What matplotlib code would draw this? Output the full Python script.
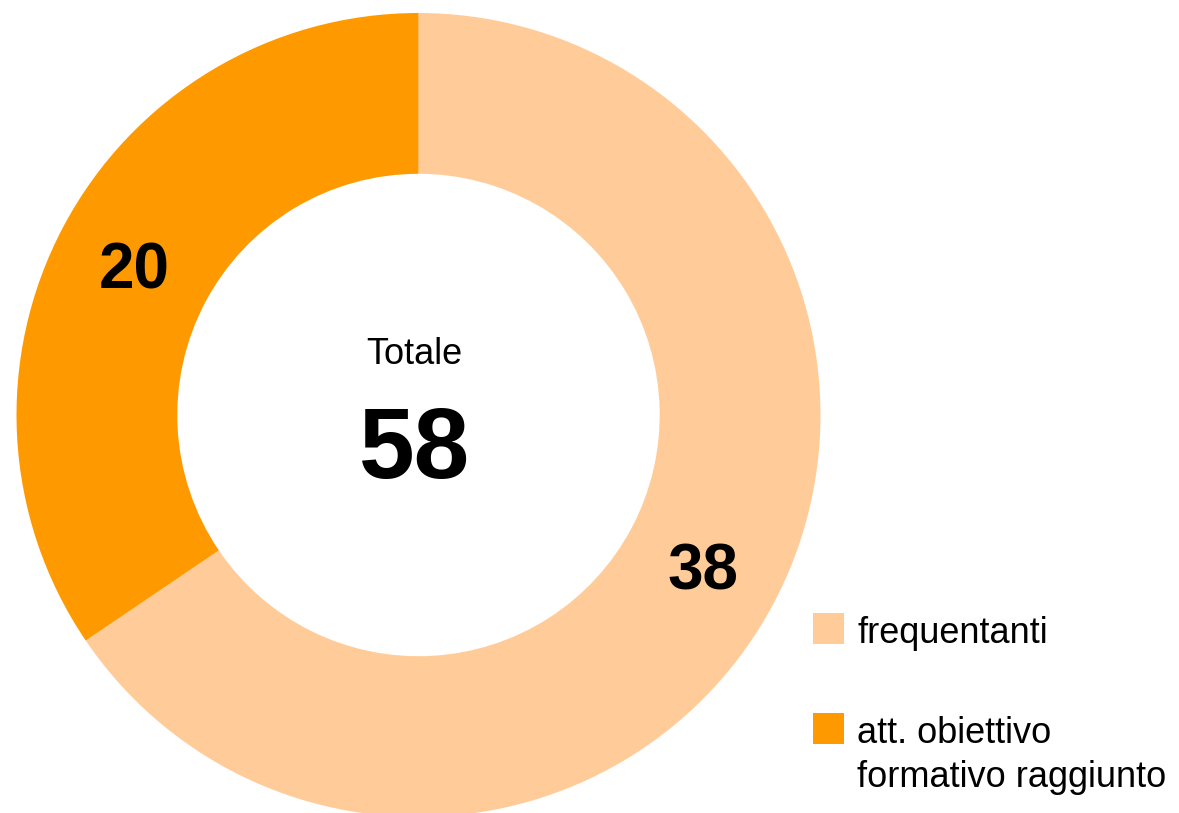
import matplotlib
matplotlib.use("Agg")
import matplotlib.pyplot as plt
from matplotlib.patches import Rectangle
import numpy as np

plt.rcParams['font.family'] = ['Liberation Sans', 'DejaVu Sans']

categories = ["frequentanti", "att. obiettivo\nformativo raggiunto"]
values = [38, 20]
colors = ["#FFCC99", "#FF9900"]
center_title = "Totale"
total = sum(values)

W, H = 1179, 813
fig = plt.figure(figsize=(W / 100, H / 100), dpi=100)

cx, cy, R = 418.5, 415, 402
ax = fig.add_axes([(cx - R) / W, (H - cy - R) / H, 2 * R / W, 2 * R / H])
wedges, _ = ax.pie(values, colors=colors, startangle=90, counterclock=False,
                   radius=1.0, wedgeprops=dict(width=0.4, linewidth=0))
ax.set_xlim(-1, 1)
ax.set_ylim(-1, 1)
ax.set_aspect('equal')
ax.axis('off')

for w, v in zip(wedges, values):
    ang = np.deg2rad((w.theta1 + w.theta2) / 2)
    ax.text(0.8 * np.cos(ang), 0.8 * np.sin(ang) - 0.018, f"{v}", ha='center',
            va='center', fontsize=46, fontweight='bold', color='black')

ax.text(-0.01, 0.15, center_title, ha='center', va='center', fontsize=26, color='black')
ax.text(-0.01, -0.092, f"{total}", ha='center', va='center', fontsize=72,
        fontweight='bold', color='black')

# legend
sq = 31
sq_tops = [613, 713]
baselines = [643, 743]
for lab, col, top, base in zip(categories, colors, sq_tops, baselines):
    fig.patches.append(Rectangle((813 / W, (H - top - sq) / H), sq / W, sq / H,
                                 transform=fig.transFigure, facecolor=col,
                                 edgecolor='none'))
    lines = lab.split("\n")
    for i, line in enumerate(lines):
        fig.text(857 / W, (H - base - 44 * i) / H, line, ha='left',
                 va='baseline', fontsize=26, color='black')

fig.savefig("out.png", dpi=100)
